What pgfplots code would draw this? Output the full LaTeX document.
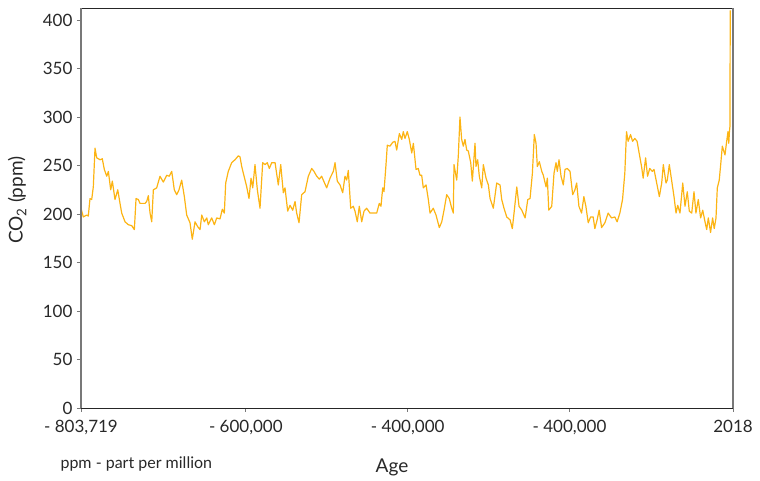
\documentclass[border=0pt]{standalone}
\usepackage{pgfplots}
\pgfplotsset{compat=1.18}
\usepackage{fontspec}
\setmainfont{Lato}
\definecolor{co2}{RGB}{252,180,20}
\definecolor{spine}{RGB}{120,120,120}
\definecolor{txt}{RGB}{40,40,40}
\begin{document}
\begin{tikzpicture}[x=1pt,y=1pt]
\path[use as bounding box] (-81,-73) rectangle (679,408);
\begin{axis}[
  at={(0,0)}, anchor=south west,
  scale only axis, width=652pt, height=400pt,
  clip mode=individual,
  xmin=-803.719, xmax=2.018, ymin=0, ymax=412.5,
  xtick={-803.719,-600,-400,-200,2.018},
  xticklabels={{- 803,719},{- 600,000},{- 400,000},{- 400,000},{2018}},
  ytick={0,50,...,400},
  /pgf/number format/assume math mode=true,
  tick align=outside,
  major tick length=4pt,
  tick style={spine, line width=0.8pt},
  xtick pos=bottom, ytick pos=left,
  ticklabel style={font=\fontsize{17}{20}\selectfont, text=txt},
  xticklabel style={yshift=-5pt},
  yticklabel style={xshift=-1pt},
  axis line style={draw=none},
  xlabel={Age},
  xlabel style={at={(axis description cs:0.477,-0.1475)}, anchor=center, font=\fontsize{19}{22}\selectfont, text=txt},
  ylabel={CO\textsubscript{2} (ppm)},
  ylabel style={at={(axis description cs:-0.098,0.52)}, anchor=center, font=\fontsize{19}{22}\selectfont, text=txt},
]
\addplot[co2, line width=1.2pt, line join=round] coordinates {
(-803.7,206) (-800.9,197) (-796.7,199) (-794.7,198) (-792.6,216) (-790.5,215) (-788.5,228) (-786.4,268) (-784.3,258) (-780.2,256) (-777.4,257) (-774.9,246) (-771.9,239) (-769.9,244) (-767.0,225) (-765.0,234) (-761.7,215) (-758.3,225) (-755.5,211) (-753.4,201) (-749.3,192) (-745.2,189) (-741.0,188) (-737.8,184) (-735.7,216) (-732.9,215) (-730.8,211) (-724.6,211) (-722.5,213) (-720.5,219) (-718.4,201) (-716.3,192) (-714.3,225) (-710.2,227) (-706.1,239) (-702.0,233) (-697.8,240) (-694.6,239) (-691.6,244) (-688.4,225) (-685.4,220) (-682.6,225) (-679.3,235) (-676.0,218) (-673.1,199) (-669.0,191) (-666.2,174) (-662.8,192) (-659.5,187) (-656.6,184) (-654.5,199) (-651.3,192) (-648.3,196) (-646.4,189) (-642.2,196) (-638.9,189) (-636.0,196) (-631.9,195) (-629.1,205) (-626.6,201) (-624.9,232) (-621.7,244) (-617.5,253) (-613.4,256) (-609.3,260) (-607.2,259) (-605.1,249) (-603.1,242) (-598.9,228) (-596.1,216) (-593.6,237) (-591.5,227) (-588.7,251) (-585.8,225) (-582.5,206) (-579.2,253) (-576.3,251) (-573.5,253) (-571.0,247) (-568.0,253) (-563.9,253) (-559.9,230) (-556.9,251) (-553.7,222) (-551.6,227) (-548.3,203) (-545.4,209) (-542.1,204) (-539.2,213) (-537.2,201) (-534.3,191) (-531.0,220) (-526.9,223) (-522.8,239) (-518.6,247) (-515.8,244) (-512.4,239) (-509.2,236) (-506.3,239) (-504.3,235) (-500.1,227) (-496.0,237) (-491.9,244) (-489.8,253) (-487.0,234) (-483.6,230) (-480.3,222) (-477.5,239) (-475.4,235) (-473.4,245) (-470.4,206) (-467.2,208) (-465.1,203) (-462.3,192) (-459.8,208) (-456.8,192) (-454.0,203) (-450.7,206) (-446.6,201) (-442.5,201) (-438.3,201) (-435.1,211) (-433.0,208) (-430.9,227) (-429.3,223) (-426.8,251) (-425.2,271) (-421.9,270) (-418.5,274) (-415.7,275) (-413.6,266) (-410.3,283) (-407.4,277) (-405.4,285) (-403.3,278) (-400.5,285) (-398.0,277) (-395.0,263) (-393.0,273) (-389.7,246) (-386.9,247) (-384.8,240) (-382.7,240) (-380.7,227) (-377.3,230) (-374.5,215) (-372.4,201) (-368.4,206) (-365.0,199) (-360.9,186) (-357.9,192) (-355.1,204) (-351.8,220) (-348.6,216) (-345.6,206) (-343.6,201) (-342.8,251) (-339.4,235) (-337.4,261) (-335.4,300) (-333.3,277) (-331.3,270) (-329.2,277) (-327.1,266) (-325.1,265) (-322.1,253) (-320.1,234) (-316.8,273) (-315.6,249) (-313.5,256) (-311.5,239) (-308.5,227) (-306.5,251) (-303.2,237) (-300.3,230) (-298.2,216) (-294.2,206) (-290.0,232) (-285.9,230) (-283.8,215) (-281.0,206) (-277.6,197) (-273.5,194) (-270.7,185) (-268.2,204) (-265.2,228) (-262.4,208) (-259.0,204) (-254.9,196) (-251.6,215) (-248.8,216) (-245.9,242) (-243.5,282) (-241.4,273) (-239.8,249) (-237.3,254) (-234.3,244) (-232.4,240) (-229.0,228) (-227.4,237) (-225.7,204) (-222.0,208) (-219.2,242) (-216.7,253) (-215.1,244) (-213.0,256) (-210.5,239) (-207.7,230) (-205.6,246) (-202.7,247) (-199.4,244) (-196.1,220) (-193.3,225) (-191.2,232) (-188.4,208) (-185.1,201) (-182.3,218) (-179.8,208) (-176.9,191) (-174.0,197) (-170.8,197) (-168.7,185) (-165.9,194) (-163.4,204) (-160.4,186) (-156.3,191) (-152.3,201) (-148.1,196) (-144.0,197) (-141.2,192) (-137.8,201) (-134.5,215) (-131.7,242) (-129.6,285) (-127.6,275) (-124.6,282) (-122.1,275) (-119.3,278) (-116.5,275) (-114.0,263) (-111.0,249) (-109.0,237) (-106.0,258) (-103.6,239) (-100.9,247) (-97.7,244) (-95.6,246) (-92.3,232) (-89.0,218) (-86.1,232) (-84.1,251) (-80.8,232) (-79.2,235) (-76.7,251) (-73.7,234) (-70.9,218) (-68.4,201) (-66.3,209) (-63.5,201) (-60.1,232) (-57.3,208) (-54.5,223) (-52.0,203) (-49.0,201) (-46.2,223) (-43.8,201) (-40.9,215) (-38.0,196) (-35.4,204) (-32.6,192) (-30.5,184) (-28.5,196) (-25.7,181) (-23.2,196) (-21.2,185) (-19.0,196) (-17.4,227) (-15.0,235) (-13.2,251) (-11.2,270) (-7.9,261) (-5.8,275) (-4.2,285) (-3.2,273) (-2.4,285) (-1.8,290) (-1.4,410)
};
\draw[black!85, line width=0.9pt] (rel axis cs:0,1) -- (rel axis cs:1,1);
\draw[black!85, line width=0.9pt] (rel axis cs:0,0) -- (rel axis cs:1,0);
\draw[spine, line width=2pt] (rel axis cs:0,0) -- (rel axis cs:0,1);
\draw[spine, line width=2pt] (rel axis cs:1,0) -- (rel axis cs:1,1);
\node[anchor=west, font=\fontsize{16}{19}\selectfont, text=txt] at (axis description cs:-0.0368,-0.14) {ppm - part per million};
\end{axis}
\end{tikzpicture}
\end{document}
